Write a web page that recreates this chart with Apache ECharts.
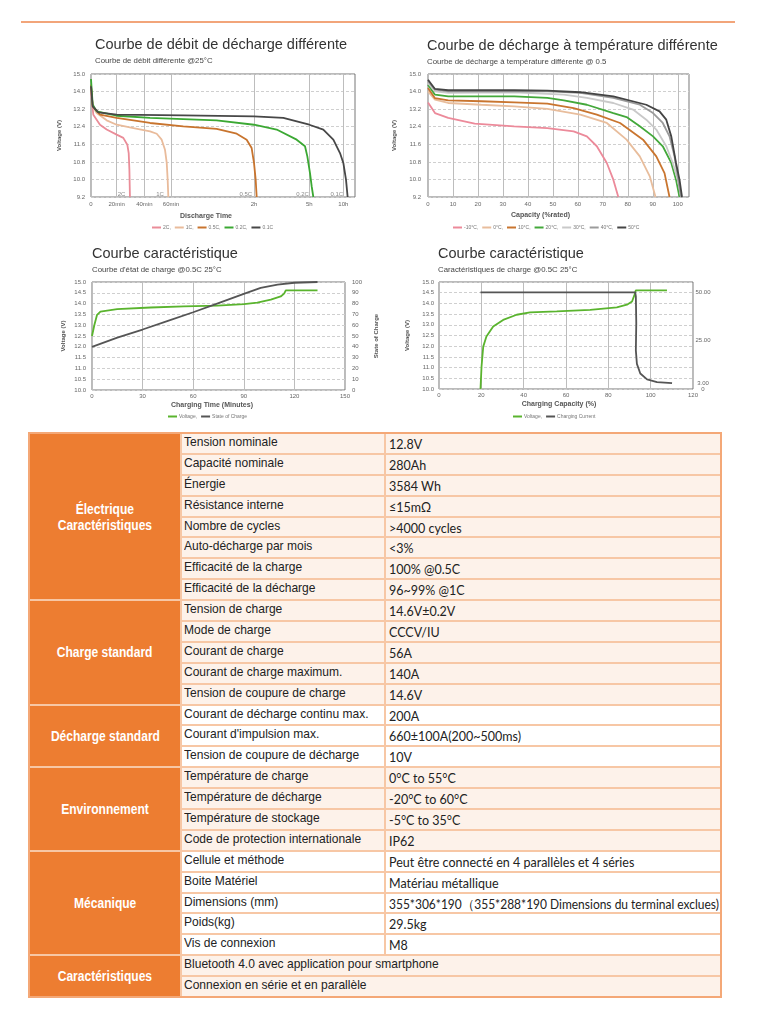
<!DOCTYPE html>
<html><head><meta charset="utf-8">
<script src="https://cdn.jsdelivr.net/npm/echarts@6/dist/echarts.min.js"></script>
<style>
html,body{margin:0;padding:0;background:#fff;width:757px;height:1024px;overflow:hidden;}
#topline{position:absolute;left:21px;top:21px;width:714px;height:2px;background:#f2a57a;}
#chart{position:absolute;left:0;top:0;width:757px;height:430px;}
#tbl{position:absolute;left:28px;top:432px;width:690px;height:562px;border:2px solid #f4a877;display:grid;
 grid-template-columns:150px 202px 1fr;grid-template-rows:repeat(27,1fr);gap:2px;background:#f7c7a5;}
#tbl .cat{background:#ed7d31;color:#fff;display:flex;align-items:center;justify-content:center;text-align:center;
 font-family:"Liberation Sans",sans-serif;font-weight:bold;font-size:14px;line-height:16px;}
#tbl .cat span{display:inline-block;transform:scaleX(0.86);}
#tbl .p{font-family:"Liberation Sans",sans-serif;font-size:13px;color:#222;padding-left:2px;line-height:15px;white-space:nowrap;overflow:hidden;}
#tbl .p span{display:inline-block;transform:scaleX(0.925);transform-origin:0 50%;}
#tbl .v{font-family:Lato,"Liberation Sans",sans-serif;font-size:12.5px;color:#222;padding-left:3px;padding-top:4px;line-height:14px;white-space:nowrap;overflow:hidden;}
#tbl .v span{display:inline-block;transform-origin:0 50%;}
</style></head><body>
<div id="topline"></div>
<div id="chart"></div>
<div id="tbl"></div>
<script>
// ---------- Chart 1 : discharge at different rates (x = minutes, y = volts)
const rateNames = ['2C','1C','0.5C','0.2C','0.1C'];
const rate2C  = [[0,13.95],[0.5,13.93],[1.8,12.95],[7,12.49],[12.2,12.27],[20,12.04],[24.8,11.89],[27.7,11.58],[28.7,11.2],[29.2,10.44],[29.6,9.2]];
const rate1C  = [[0,14.16],[1.3,13.33],[4.4,13.02],[12.2,12.69],[20,12.49],[32.1,12.34],[44.3,12.19],[49.3,12.08],[53,11.81],[55.5,11.35],[56.8,10.75],[57.5,9.99],[58,9.2]];
const rate05C = [[0,14.31],[1.3,13.33],[7,12.95],[20,12.8],[44.3,12.57],[68.9,12.42],[93,12.3],[107.5,12.08],[114.7,11.81],[118.3,11.43],[120,10.75],[125.4,9.99],[128.7,9.2]];
const rate02C = [[0,14.57],[1.3,13.41],[4.4,13.1],[20,12.9],[44.3,12.8],[68.9,12.75],[93,12.69],[120,12.49],[193.7,12.27],[258.8,11.81],[285.9,11.51],[293.5,11.05],[305.9,10.29],[320.6,9.69],[335.3,9.2]];
const rate01C = [[0,14.24],[1.3,13.33],[5.7,13.05],[20,12.95],[68.9,12.92],[120,12.87],[215.4,12.8],[300,12.49],[423.5,12.27],[511.8,11.81],[570.6,11.2],[600,10.75],[623.5,9.99],[638,9.2]];
const timeTickMinutes = [0,20,40,60,120,300,600];
const timeTickLabels = ['0','20min','40min','60min','2h','5h','10h'];
const voltTicks = [9.2,10.0,10.8,11.6,12.4,13.2,14.0,14.8];
const voltTickLabels = ['9.2','10.0','10.8','11.6','12.4','13.2','14.0','15.0'];

// ---------- Chart 2 : discharge at different temperatures (x = % capacity, y = volts)
const tempNames = ['-10°C','0°C','10°C','20°C','30°C','40°C','50°C'];
const tempM10 = [[0,13.5],[2.8,13.02],[8.1,12.8],[18.7,12.54],[34.5,12.42],[47.8,12.34],[58.3,12.19],[63.6,11.96],[67.6,11.51],[71.6,10.75],[74.2,9.99],[76.2,9.2]];
const temp0   = [[0,14.01],[2.8,13.63],[8.1,13.48],[21.3,13.4],[34.5,13.33],[47.8,13.21],[61,12.95],[71.6,12.57],[79.5,11.81],[84.8,11.05],[88.8,10.14],[91.1,9.2]];
const temp10  = [[0,14.16],[2.8,13.7],[8.1,13.6],[21.3,13.56],[34.5,13.51],[47.8,13.45],[58.3,13.25],[67.6,12.95],[76.9,12.57],[86.1,11.81],[91.4,11.05],[94.7,10.29],[96.7,9.2]];
const temp20  = [[0,14.31],[2.8,13.86],[8.1,13.78],[21.3,13.78],[34.5,13.78],[47.8,13.71],[54.4,13.6],[63.6,13.4],[74.2,13.02],[79.5,12.84],[84.8,12.42],[90.1,11.96],[94,11.51],[97.4,10.75],[99.3,9.99],[100.7,9.2]];
const temp30  = [[0,14.39],[2.8,14.01],[8.1,13.94],[34.5,13.97],[54.4,13.86],[63.6,13.71],[74.2,13.48],[82.1,13.18],[87.4,12.72],[91.4,12.27],[95.4,11.51],[98,10.75],[100,9.99],[101.3,9.2]];
const temp40  = [[0,14.47],[2.8,14.09],[8.1,14.01],[47.8,14.01],[61,13.94],[74.2,13.71],[84.8,13.4],[90.1,13.02],[94,12.57],[96.7,11.96],[98.7,11.05],[100,10.14],[101.3,9.2]];
const temp50  = [[0,14.54],[2.8,14.12],[8.1,14.06],[34.5,14.06],[47.8,14.04],[61,13.97],[74.2,13.78],[87.4,13.4],[92.7,13.1],[95.4,12.72],[97.4,11.96],[99.3,10.75],[100.7,9.99],[101.7,9.2]];

// ---------- Chart 3 : state of charge (x = minutes)
const socVoltage = [[0,12.5],[0.4,12.55],[1.4,13.01],[3,13.48],[5,13.63],[14.9,13.74],[34.7,13.82],[54.5,13.87],[74.3,13.91],[90.1,13.98],[98,14.05],[106,14.18],[111.9,14.33],[113.9,14.46],[114.9,14.61],[133.7,14.61]];
const socPercent = [[0,40],[15,48.5],[30,56],[45,64],[60,72],[75,80.5],[90,89],[100,94.5],[110,97.5],[120,99.3],[133.7,100]];

// ---------- Chart 4 : charge characteristics (x = % capacity)
const chgVoltage = [[19.6,10.0],[20.1,11.05],[20.9,11.98],[22.4,12.45],[25.6,12.92],[30.3,13.23],[36.7,13.47],[43,13.58],[55.6,13.63],[71.4,13.7],[84,13.81],[88.8,13.94],[91.2,14.09],[92.4,14.41],[93,14.61],[96.7,14.61],[107.7,14.61]];
const chgCurrent = [[19.6,50],[92.7,50],[93,48],[93.2,34],[93,20],[93.5,13],[95.1,8],[98.3,5],[103,3.6],[110.1,3]];
const currentTicks = [0,3,25,50];
const currentTickLabels = ['0','3.00','25.00','50.00'];

// ---------- Table
const secNames = ['Électrique<br>Caractéristiques','Charge standard','Décharge standard','Environnement','Mécanique','Caractéristiques'];
const rowsElec = [['Tension nominale','12.8V'],['Capacité nominale','280Ah'],['Énergie','3584 Wh'],['Résistance interne','≤15mΩ'],['Nombre de cycles','>4000 cycles'],['Auto-décharge par mois','<3%'],['Efficacité de la charge','100% @0.5C'],['Efficacité de la décharge','96~99% @1C']];
const rowsCharge = [['Tension de charge','14.6V±0.2V'],['Mode de charge','CCCV/IU'],['Courant de charge','56A'],['Courant de charge maximum.','140A'],['Tension de coupure de charge','14.6V']];
const rowsDecharge = [['Courant de décharge continu max.','200A'],["Courant d'impulsion max.",'660±100A(200~500ms)'],['Tension de coupure de décharge','10V']];
const rowsEnv = [['Température de charge','0°C to 55°C'],['Température de décharge','-20°C to 60°C'],['Température de stockage','-5°C to 35°C'],['Code de protection internationale','IP62']];
const rowsMeca = [['Cellule et méthode','Peut être connecté en 4 parallèles et 4 séries'],['Boite Matériel','Matériau métallique'],['Dimensions (mm)','355*306*190（355*288*190 Dimensions du terminal exclues)'],['Poids(kg)','29.5kg'],['Vis de connexion','M8']];
const rowsFeat = [['Bluetooth 4.0 avec application pour smartphone'],['Connexion en série et en parallèle']];

// ---------- layout / style
const timeTickPos = [0,77,160,240,489,655,757]; // broken time axis: position of each tick
const timeAxisEnd = 792;
function timeToPos(m){
  for(let i=1;i<timeTickMinutes.length;i++){
    if(m<=timeTickMinutes[i]||i===timeTickMinutes.length-1){
      const a=timeTickMinutes[i-1],b=timeTickMinutes[i],pa=timeTickPos[i-1],pb=timeTickPos[i];
      return pa+(m-a)/(b-a)*(pb-pa);
    }
  }
}
function tickLabel(ticks,labels){return v=>{for(let i=0;i<ticks.length;i++){if(Math.abs(ticks[i]-v)<1e-6)return labels[i];}return '';};}

const FONT='"Liberation Sans", Arial, sans-serif';
const axLbl=(o)=>Object.assign({fontSize:6,color:'#666',fontFamily:FONT,showMinLabel:true,showMaxLabel:true},o||{});
const splitV={show:true,lineStyle:{color:'#bdbdbd',width:1}};
const splitH={show:true,lineStyle:{color:'#cfcfcf',width:1,type:[3,2]}};
const nameSt=(pad)=>({fontSize:7,fontWeight:'bold',color:'#555',fontFamily:FONT,padding:pad});
const ynameSt={fontSize:6,fontWeight:'bold',color:'#555',fontFamily:FONT};
const rateColors=['#ea8d99','#e9bb9b','#c8742e','#3ba833','#474747'];
const tempColors=['#ec8a9a','#e8bd9c','#c9752f','#43a83a','#c9c9c9','#9b9b9b','#444444'];
const GREEN='#5ab42e', DARK='#555555';

function ser(name,data,xi,yi,color,extra){
  return Object.assign({type:'line',name,data,xAxisIndex:xi,yAxisIndex:yi,showSymbol:false,symbol:'none',
    lineStyle:{color,width:1.8},itemStyle:{color},silent:true,animation:false},extra||{});
}
const rateData=[rate2C,rate1C,rate05C,rate02C,rate01C];
const tempData=[tempM10,temp0,temp10,temp20,temp30,temp40,temp50];
const series=[];
rateData.forEach((d,i)=>{
  const mapped=d.map(p=>[timeToPos(p[0]),p[1]]);
  const last=mapped[mapped.length-1];
  series.push(ser(rateNames[i],mapped,0,0,rateColors[i],{
    markPoint:{symbol:'circle',symbolSize:1,itemStyle:{color:'rgba(0,0,0,0)'},silent:true,animation:false,
      label:{show:true,position:'left',distance:4,offset:[0,-3],formatter:rateNames[i],fontSize:6,color:'#888',fontFamily:FONT},
      data:[{coord:last}]}
  }));
});
tempData.forEach((d,i)=>series.push(ser(tempNames[i],d,1,1,tempColors[i])));
series.push(ser('Voltage',socVoltage,2,2,GREEN));
series.push(ser('State of Charge',socPercent,2,3,DARK));
series.push(ser('Voltage ',chgVoltage,3,4,GREEN));
series.push(ser('Charging Current',chgCurrent,3,5,DARK));

const commaFmt=(names)=>(n)=>n.trim()+(n===names[names.length-1]?'':',');
const legendBase={orient:'horizontal',padding:0,itemWidth:9,itemHeight:2,itemGap:4,icon:'rect',textStyle:{fontSize:5,color:'#777',fontFamily:FONT,padding:[0,0,0,-3]},selectedMode:false};
const titleBase=(left,top,text,sub)=>({left,top,text,subtext:sub,padding:0,itemGap:5,
  textStyle:{fontSize:14.5,fontWeight:'normal',color:'#333',fontFamily:FONT},
  subtextStyle:{fontSize:7.8,color:'#444',fontFamily:FONT}});
const curFmt=tickLabel(currentTicks,currentTickLabels);
// right axis of chart 4 is split in two axes so the close "0" and "3.00" labels are both kept
const curAxis=(vals)=>({gridIndex:3,type:'value',position:'right',min:0,max:55.4,
  axisLine:{show:false},axisTick:{show:false,customValues:vals},
  axisLabel:axLbl({customValues:vals,formatter:curFmt,margin:10,align:'center'}),splitLine:{show:false}});

const option={
  animation:false,
  title:[
    titleBase(95,37,'Courbe de débit de décharge différente','Courbe de débit différente @25°C'),
    titleBase(427,38,'Courbe de décharge à température différente','Courbe de décharge à température différente @ 0.5'),
    titleBase(92,246,'Courbe caractéristique',"Courbe d'état de charge @0.5C 25°C"),
    titleBase(438,246,'Courbe caractéristique','Caractéristiques de charge @0.5C 25°C')
  ],
  legend:[
    Object.assign({},legendBase,{left:152,top:225,data:rateNames,formatter:commaFmt(rateNames)}),
    Object.assign({},legendBase,{left:453,top:225,data:tempNames,formatter:commaFmt(tempNames)}),
    Object.assign({},legendBase,{left:168,top:414,data:['Voltage','State of Charge'],formatter:commaFmt(['Voltage','State of Charge'])}),
    Object.assign({},legendBase,{left:513,top:414,data:['Voltage ','Charging Current'],formatter:commaFmt(['Voltage ','Charging Current'])})
  ],
  grid:[
    {left:91,top:74,width:264,height:123,show:true,borderColor:'#777',borderWidth:1},
    {left:428,top:74,width:261,height:123,show:true,borderColor:'#777',borderWidth:1},
    {left:92,top:282,width:253,height:108,show:true,borderColor:'#777',borderWidth:1},
    {left:439,top:282,width:254,height:107,show:true,borderColor:'#777',borderWidth:1}
  ],
  xAxis:[
    {gridIndex:0,type:'value',min:0,max:timeAxisEnd,name:'Discharge Time',nameLocation:'middle',nameGap:16,nameTextStyle:nameSt([0,34,0,0]),
      axisLine:{show:false},axisTick:{show:false,customValues:timeTickPos},
      axisLabel:axLbl({customValues:timeTickPos,formatter:tickLabel(timeTickPos,timeTickLabels),margin:4}),splitLine:splitV},
    {gridIndex:1,type:'value',min:0,max:104.5,interval:10,name:'Capacity (%rated)',nameLocation:'middle',nameGap:15,nameTextStyle:nameSt([0,36,0,0]),
      axisLine:{show:false},axisTick:{show:false},
      axisLabel:axLbl({margin:4,formatter:v=>(Math.abs(v%10)<1e-6?String(v):'')}),splitLine:splitV},
    {gridIndex:2,type:'value',min:0,max:150,interval:30,name:'Charging Time (Minutes)',nameLocation:'middle',nameGap:12,nameTextStyle:nameSt([0,13,0,0]),
      axisLine:{show:false},axisTick:{show:false},axisLabel:axLbl({margin:3}),splitLine:splitV},
    {gridIndex:3,type:'value',min:0,max:120,interval:20,name:'Charging Capacity (%)',nameLocation:'middle',nameGap:12,nameTextStyle:nameSt([0,14,0,0]),
      axisLine:{show:false},axisTick:{show:false},axisLabel:axLbl({margin:3}),splitLine:splitV}
  ],
  yAxis:[
    {gridIndex:0,type:'value',min:9.2,max:14.8,name:'Voltage (V)',nameLocation:'middle',nameGap:29,nameTextStyle:ynameSt,
      axisLine:{show:false},axisTick:{show:false,customValues:voltTicks},
      axisLabel:axLbl({customValues:voltTicks,formatter:tickLabel(voltTicks,voltTickLabels),margin:6}),splitLine:splitH},
    {gridIndex:1,type:'value',min:9.2,max:14.8,name:'Voltage (V)',nameLocation:'middle',nameGap:31,nameTextStyle:ynameSt,
      axisLine:{show:false},axisTick:{show:false,customValues:voltTicks},
      axisLabel:axLbl({customValues:voltTicks,formatter:tickLabel(voltTicks,voltTickLabels),margin:7}),splitLine:splitH},
    {gridIndex:2,type:'value',min:10,max:15,interval:0.5,name:'Voltage (V)',nameLocation:'middle',nameGap:26,nameTextStyle:ynameSt,
      axisLine:{show:false},axisTick:{show:false},axisLabel:axLbl({margin:6,formatter:v=>v.toFixed(1)}),splitLine:splitH},
    {gridIndex:2,type:'value',position:'right',min:0,max:100,interval:10,name:'State of Charge',nameLocation:'middle',nameGap:28,nameTextStyle:ynameSt,
      axisLine:{show:false},axisTick:{show:false},axisLabel:axLbl({margin:7}),splitLine:{show:false}},
    {gridIndex:3,type:'value',min:10,max:15,interval:0.5,name:'Voltage (V)',nameLocation:'middle',nameGap:29,nameTextStyle:ynameSt,
      axisLine:{show:false},axisTick:{show:false},axisLabel:axLbl({margin:5,formatter:v=>v.toFixed(1)}),splitLine:splitH},
    curAxis(currentTicks.slice(1)),
    curAxis(currentTicks.slice(0,1))
  ],
  series
};
const chart=echarts.init(document.getElementById('chart'),null,{renderer:'canvas'});
chart.setOption(option);

// ---------- build table
const tbl=document.getElementById('tbl');
const secRows=[rowsElec,rowsCharge,rowsDecharge,rowsEnv,rowsMeca,rowsFeat];
const secBg=['#fdf2ea','#fdf2ea','#ffffff','#fdf2ea','#ffffff','#fdf2ea'];
let r=1;
const valueSpans=[];
secRows.forEach((rows,si)=>{
  const c=document.createElement('div');
  c.className='cat';c.innerHTML='<span>'+secNames[si]+'</span>';
  c.style.gridColumn='1';c.style.gridRow=r+' / span '+rows.length;
  tbl.appendChild(c);
  rows.forEach((row,k)=>{
    const p=document.createElement('div');p.className='p';
    const s=document.createElement('span');s.textContent=row[0];p.appendChild(s);
    p.style.gridRow=String(r+k);p.style.background=secBg[si];
    if(row.length===1){p.style.gridColumn='2 / span 2';tbl.appendChild(p);}
    else{
      p.style.gridColumn='2';tbl.appendChild(p);
      const v=document.createElement('div');v.className='v';
      const vs=document.createElement('span');vs.textContent=row[1];v.appendChild(vs);
      v.style.gridColumn='3';v.style.gridRow=String(r+k);v.style.background=secBg[si];tbl.appendChild(v);
      valueSpans.push([v,vs]);
    }
  });
  r+=rows.length;
});
// shrink any value text that would overflow its cell
valueSpans.forEach(([cell,span])=>{
  const avail=cell.clientWidth-4, w=span.getBoundingClientRect().width;
  if(w>avail) span.style.transform='scaleX('+(avail/w).toFixed(3)+')';
});
</script>
</body></html>
